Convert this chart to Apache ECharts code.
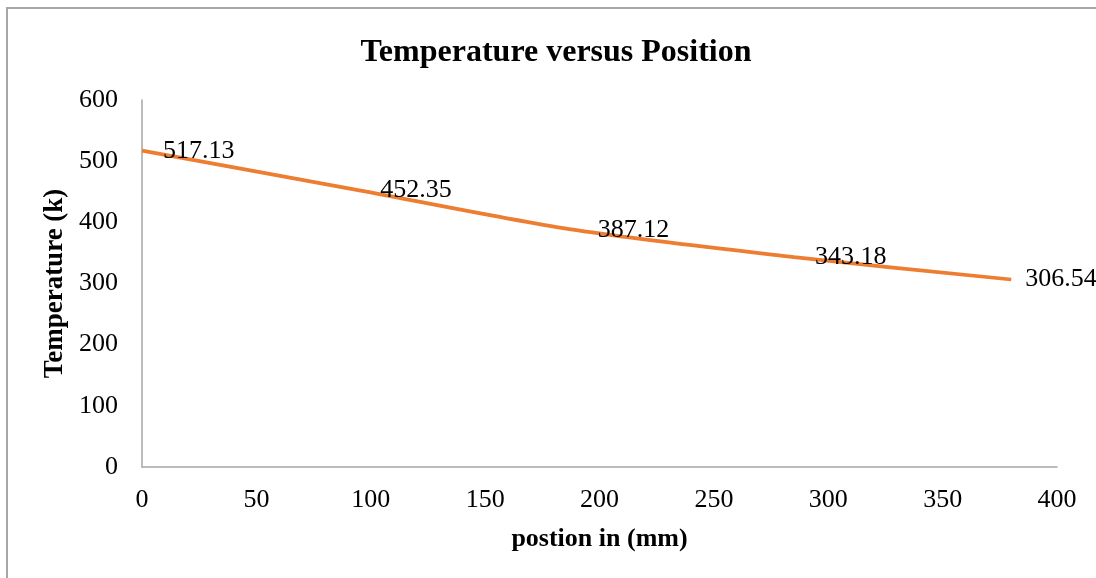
<!DOCTYPE html>
<html>
<head>
<meta charset="utf-8">
<script src="https://cdn.jsdelivr.net/npm/echarts@6/dist/echarts.min.js"></script>
<style>
  html, body { margin: 0; padding: 0; background: #ffffff; }
  #chart { width: 1096px; height: 578px; }
</style>
</head>
<body>
<div id="chart"></div>
<script>
// Position along the part (mm) and measured temperature (K)
const positions = [0, 95, 190, 285, 380];
const temperatures = [517.13, 452.35, 387.12, 343.18, 306.54];

const titleText = 'Temperature versus Position';
const xAxisName = 'postion in (mm)';
const yAxisName = 'Temperature (k)';

const serif = '"Liberation Serif", "Times New Roman", serif';

// Points for the line; the end label sits a little closer to its point
const points = positions.map((x, i) => {
  const item = { value: [x, temperatures[i]] };
  if (i === positions.length - 1) item.label = { distance: 13 };
  return item;
});

const chart = echarts.init(document.getElementById('chart'), null, { renderer: 'canvas' });

chart.setOption({
  animation: false,
  backgroundColor: '#ffffff',
  graphic: [
    {
      type: 'rect',
      shape: { x: 7, y: 8, width: 1200, height: 700 },
      style: { fill: 'none', stroke: '#a6a6a6', lineWidth: 2 },
      silent: true
    }
  ],
  title: {
    text: titleText,
    left: 551,
    top: 32,
    textAlign: 'center',
    textStyle: { fontFamily: serif, fontSize: 32, fontWeight: 'bold', color: '#000' }
  },
  grid: { left: 142, right: 39, top: 100, bottom: 111, containLabel: false },
  xAxis: {
    type: 'value',
    min: 0, max: 400, interval: 50,
    name: xAxisName,
    nameLocation: 'middle',
    nameGap: 59,
    nameTextStyle: { fontFamily: serif, fontSize: 26, fontWeight: 'bold', color: '#000' },
    axisLine: { show: true, lineStyle: { color: '#a6a6a6', width: 1.5 } },
    axisTick: { show: false },
    splitLine: { show: false },
    axisLabel: { fontFamily: serif, fontSize: 26, color: '#000', margin: 20 }
  },
  yAxis: {
    type: 'value',
    min: 0, max: 600, interval: 100,
    name: yAxisName,
    nameLocation: 'middle',
    nameGap: 69,
    nameTextStyle: { fontFamily: serif, fontSize: 27, fontWeight: 'bold', color: '#000' },
    axisLine: { show: true, lineStyle: { color: '#a6a6a6', width: 1.5 } },
    axisTick: { show: false },
    splitLine: { show: false },
    axisLabel: { fontFamily: serif, fontSize: 26, color: '#000', margin: 24 }
  },
  series: [
    {
      type: 'line',
      data: points,
      smooth: 0.3,
      symbol: 'circle',
      symbolSize: 2,
      showSymbol: true,
      itemStyle: { color: 'rgba(0,0,0,0)', borderWidth: 0 },
      lineStyle: { color: '#ED7D31', width: 3.75 },
      label: {
        show: true,
        position: 'right',
        distance: 20,
        fontFamily: serif,
        fontSize: 26,
        color: '#000',
        formatter: p => p.value[1].toFixed(2)
      },
      labelLayout: { hideOverlap: false }
    }
  ]
});
</script>
</body>
</html>
